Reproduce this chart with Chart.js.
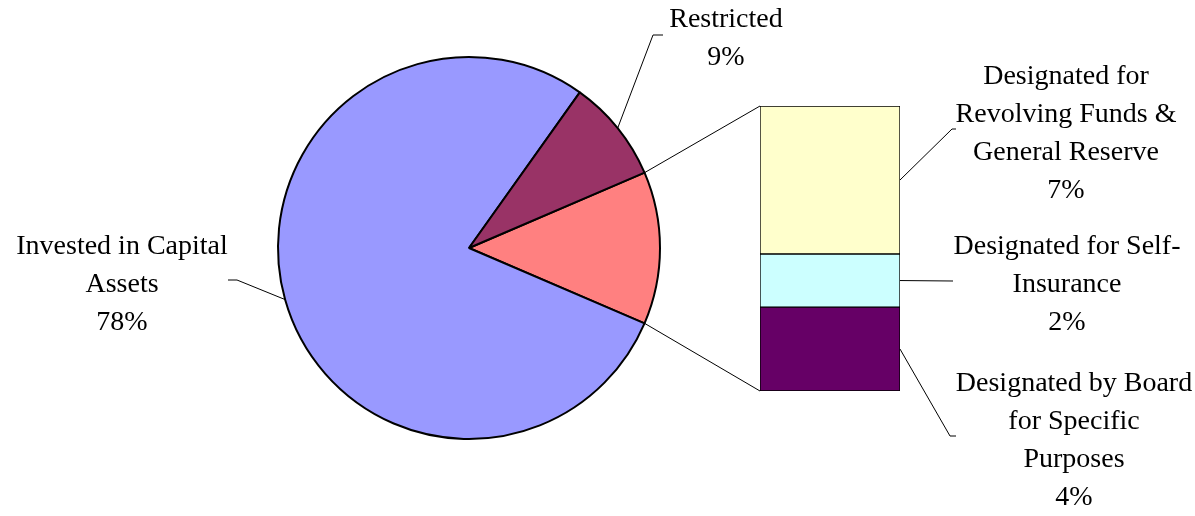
<!DOCTYPE html>
<html><head><meta charset="utf-8">
<script src="https://cdn.jsdelivr.net/npm/chart.js@4/dist/chart.umd.min.js"></script>
<style>
html,body{margin:0;padding:0;background:#fff;overflow:hidden}
#wrap{position:relative;width:1195px;height:516px}
canvas{position:absolute;left:0;top:0}
</style></head><body>
<div id="wrap"><canvas id="pie" width="1195" height="516"></canvas><canvas id="bar" width="1195" height="516"></canvas></div>
<script>
// ---- data ----
const pieCategories = ["Invested in Capital Assets", "Restricted"];
const pieValues = [78.4, 8.7];
const pieLabelLines = [["Invested in Capital", "Assets"], ["Restricted"]];

const barCategories = ["Designated for Revolving Funds & General Reserve", "Designated for Self-Insurance", "Designated by Board for Specific Purposes"];
const barValues = [6.7, 2.4, 3.8];
const barLabelLines = [["Designated for", "Revolving Funds &", "General Reserve"], ["Designated for Self-", "Insurance"], ["Designated by Board", "for Specific", "Purposes"]];

// ---- styles ----
const pieColors = ["#9999FF", "#993366"];
const otherColor = "#FF8080";
const barColors = ["#FFFFCC", "#CCFFFF", "#660066"];
const FONT = "28px 'Liberation Serif', 'Times New Roman', serif";
const LINE_H = 38;

// label layout: text centre x, first baseline y, leader elbow and end
const pieLabelLayout = [
  {cx: 122, y: 254, elbow: [237, 280], end: [228, 280]},
  {cx: 726, y: 27, elbow: [653, 35], end: [663, 35]}
];
const barLabelLayout = [
  {cx: 1066, y: 84, elbow: [952, 129], end: [956, 129]},
  {cx: 1067, y: 254, elbow: [953, 281], end: [953, 281]},
  {cx: 1074, y: 391, elbow: [950, 436], end: [956, 436]}
];

const otherTotal = barValues.reduce((a, b) => a + b, 0);
const allPie = [otherTotal, ...pieValues];
const total = allPie.reduce((a, b) => a + b, 0);
const otherAngle = otherTotal / total * 360;

const pieChart = new Chart(document.getElementById('pie'), {
  type: 'pie',
  data: {
    labels: ["Other", ...pieCategories],
    datasets: [{
      data: allPie,
      backgroundColor: [otherColor, ...pieColors],
      borderColor: '#000',
      borderWidth: 2,
      hoverOffset: 0
    }]
  },
  options: {
    responsive: false,
    animation: false,
    devicePixelRatio: 1,
    rotation: 90 - otherAngle / 2,
    radius: 191,
    layout: {padding: {left: 277, right: 534, top: 57, bottom: 77}},
    plugins: {legend: {display: false}, tooltip: {enabled: false}},
    events: []
  }
});

const order = [2, 1, 0]; // bottom to top
const overlay = {
  id: 'overlay',
  afterDraw(chart) {
    const ctx = chart.ctx;
    ctx.save();
    ctx.strokeStyle = '#000';
    ctx.lineWidth = 1;
    ctx.fillStyle = '#000';
    ctx.font = FONT;
    ctx.textAlign = 'center';
    ctx.textBaseline = 'alphabetic';

    // bar geometry
    const els = barCategories.map((c, i) => {
      const dsIndex = order.indexOf(i);
      return chart.getDatasetMeta(dsIndex).data[0].getProps(['x', 'y', 'base', 'width'], true);
    });
    const left = els[0].x - els[0].width / 2;
    const right = els[0].x + els[0].width / 2;
    const top = els[0].y;
    const bottom = els[2].base;

    // pie geometry
    const arcs = pieChart.getDatasetMeta(0).data;
    const a0 = arcs[0].getProps(['x', 'y', 'startAngle', 'endAngle', 'outerRadius'], true);
    const cx = a0.x, cy = a0.y, r = a0.outerRadius;
    const p1 = [cx + r * Math.cos(a0.startAngle), cy + r * Math.sin(a0.startAngle)];
    const p2 = [cx + r * Math.cos(a0.endAngle), cy + r * Math.sin(a0.endAngle)];

    ctx.beginPath();
    ctx.moveTo(p1[0], p1[1]); ctx.lineTo(left, top);
    ctx.moveTo(p2[0], p2[1]); ctx.lineTo(left, bottom);
    ctx.stroke();

    // pie labels
    pieCategories.forEach((c, i) => {
      const a = arcs[i + 1].getProps(['startAngle', 'endAngle'], true);
      const mid = (a.startAngle + a.endAngle) / 2;
      const L = pieLabelLayout[i];
      ctx.beginPath();
      ctx.moveTo(cx + r * Math.cos(mid), cy + r * Math.sin(mid));
      ctx.lineTo(L.elbow[0], L.elbow[1]);
      ctx.lineTo(L.end[0], L.end[1]);
      ctx.stroke();
      const lines = [...pieLabelLines[i], Math.round(pieValues[i] / total * 100) + '%'];
      lines.forEach((t, k) => ctx.fillText(t, L.cx, L.y + k * LINE_H));
    });

    // bar labels
    barCategories.forEach((c, i) => {
      const e = els[i];
      const midY = (e.y + e.base) / 2;
      const L = barLabelLayout[i];
      ctx.beginPath();
      ctx.moveTo(right, midY);
      ctx.lineTo(L.elbow[0], L.elbow[1]);
      ctx.lineTo(L.end[0], L.end[1]);
      ctx.stroke();
      const lines = [...barLabelLines[i], Math.round(barValues[i] / total * 100) + '%'];
      lines.forEach((t, k) => ctx.fillText(t, L.cx, L.y + k * LINE_H));
    });
    ctx.restore();
  }
};

new Chart(document.getElementById('bar'), {
  type: 'bar',
  data: {
    labels: [''],
    datasets: order.map(i => ({
      label: barCategories[i],
      data: [barValues[i]],
      backgroundColor: barColors[i],
      borderColor: '#000',
      borderWidth: 1,
      borderSkipped: false,
      barPercentage: 1,
      categoryPercentage: 1
    }))
  },
  options: {
    responsive: false,
    animation: false,
    devicePixelRatio: 1,
    layout: {padding: {left: 760, right: 295, top: 106, bottom: 125}},
    scales: {
      x: {stacked: true, display: false},
      y: {stacked: true, display: false, min: 0, max: otherTotal}
    },
    plugins: {legend: {display: false}, tooltip: {enabled: false}},
    events: []
  },
  plugins: [overlay]
});
</script>
</body></html>
